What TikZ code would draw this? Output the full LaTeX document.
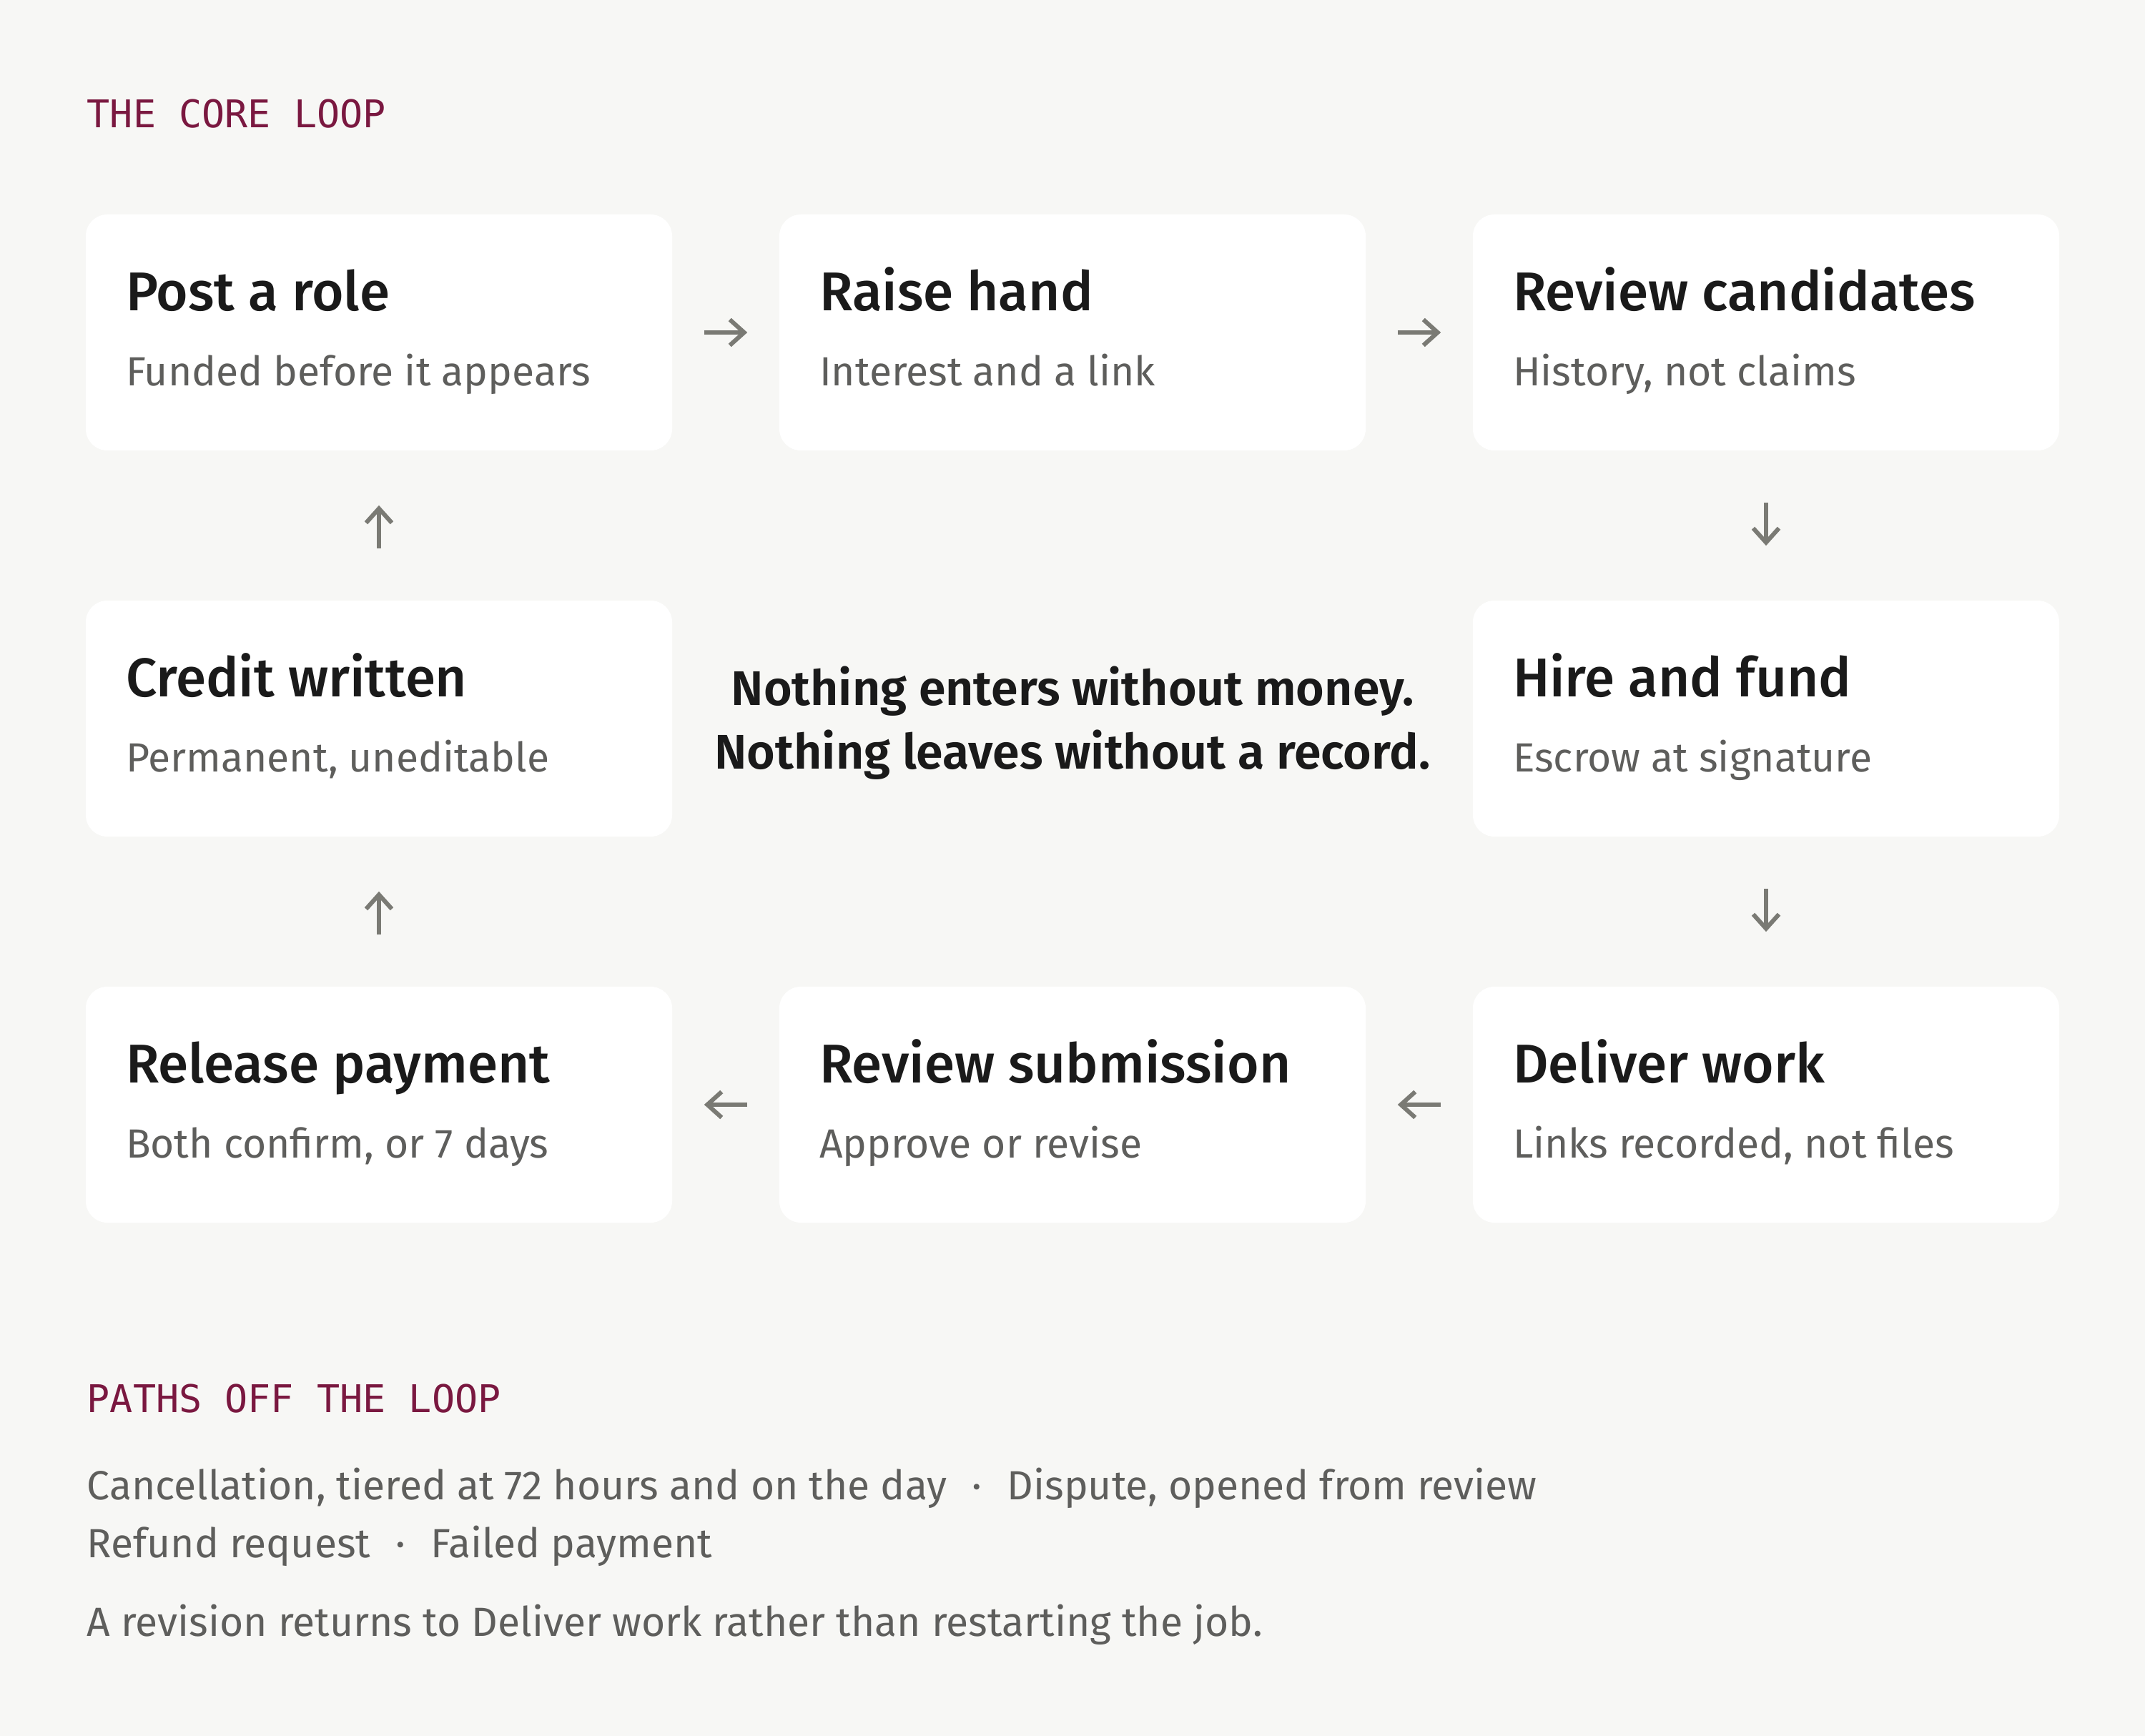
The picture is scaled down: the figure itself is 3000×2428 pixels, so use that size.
\documentclass[tikz,border=0pt]{standalone}
\usepackage{fontspec}
\setmainfont{Fira Sans}
\newfontfamily\medfont{Fira Sans Medium}
\newfontfamily\semifont{Fira Sans SemiBold}
\newfontfamily\codefont{DejaVu Sans Mono}
\usetikzlibrary{arrows.meta,calc}
\definecolor{bgc}{HTML}{F7F7F5}
\definecolor{maroon}{HTML}{7A1840}
\definecolor{ink}{HTML}{1A1A1A}
\definecolor{soft}{HTML}{5E5E5C}
\definecolor{arrc}{HTML}{7A7A74}
\tikzset{
  card/.style={fill=white, draw=none, rounded corners=7.5pt, minimum width=205pt, minimum height=82.5pt, inner sep=0pt},
  ttl/.style={anchor=base west, inner sep=0pt, text=ink, font=\medfont\fontsize{19.1pt}{23pt}\selectfont},
  sub/.style={anchor=base west, inner sep=0pt, text=soft, font=\fontsize{14.25pt}{17pt}\selectfont},
  head/.style={anchor=base west, inner sep=0pt, text=maroon, font=\codefont\fontsize{13.35pt}{16pt}\selectfont},
  foot/.style={anchor=base west, inner sep=0pt, text=soft, font=\fontsize{14.25pt}{17pt}\selectfont},
  arr/.style={draw=arrc, line width=1.5pt, -{Straight Barb[length=5pt,width=9pt]}},
  harr/.style={arr, shorten <=11pt, shorten >=11pt},
  varr/.style={arr, shorten <=18pt, shorten >=19pt},
}
\newcommand{\sep}{\hspace{0.62em}·\hspace{0.62em}}
\begin{document}
\begin{tikzpicture}[x=0.25pt,y=-0.25pt]
\fill[bgc] (0,0) rectangle (3000,2428);
\useasboundingbox (0,0) rectangle (3000,2428);

\node[head] (h1) at (121,179) {THE CORE LOOP};

% cards
\node[card] (b1) at (530,465) {};
\node[card] (b2) at (1500,465) {};
\node[card] (b3) at (2470,465) {};
\node[card] (b4) at (530,1005) {};
\node[card] (b6) at (2470,1005) {};
\node[card] (b7) at (530,1545) {};
\node[card] (b8) at (1500,1545) {};
\node[card] (b9) at (2470,1545) {};

\node[ttl] (t1) at ($(b1.north west)+(56,135)$) {Post a role};
\node[sub] (s1) at ($(b1.north west)+(56,240)$) {Funded before it appears};
\node[ttl] (t2) at ($(b2.north west)+(56,135)$) {Raise hand};
\node[sub] (s2) at ($(b2.north west)+(56,240)$) {Interest and a link};
\node[ttl] (t3) at ($(b3.north west)+(56,135)$) {Review candidates};
\node[sub] (s3) at ($(b3.north west)+(56,240)$) {History, not claims};
\node[ttl] (t4) at ($(b4.north west)+(56,135)$) {Credit written};
\node[sub] (s4) at ($(b4.north west)+(56,240)$) {Permanent, uneditable};
\node[ttl] (t6) at ($(b6.north west)+(56,135)$) {Hire and fund};
\node[sub] (s6) at ($(b6.north west)+(56,240)$) {Escrow at signature};
\node[ttl] (t7) at ($(b7.north west)+(56,135)$) {Release payment};
\node[sub] (s7) at ($(b7.north west)+(56,240)$) {Both confirm, or 7 days};
\node[ttl] (t8) at ($(b8.north west)+(56,135)$) {Review submission};
\node[sub] (s8) at ($(b8.north west)+(56,240)$) {Approve or revise};
\node[ttl] (t9) at ($(b9.north west)+(56,135)$) {Deliver work};
\node[sub] (s9) at ($(b9.north west)+(56,240)$) {Links recorded, not files};

% centre statement
\node[align=center, inner sep=0pt, text=ink, font=\semifont\fontsize{17pt}{22.3pt}\selectfont] (mid) at (1500,1011)
  {Nothing enters without money.\\Nothing leaves without a record.};

% connectors
\draw[harr] (b1.east) -- (b2.west);
\draw[harr] (b2.east) -- (b3.west);
\draw[varr] (b3.south) -- (b6.north);
\draw[varr] (b6.south) -- (b9.north);
\draw[harr] (b9.west) -- (b8.east);
\draw[harr] (b8.west) -- (b7.east);
\draw[varr] (b7.north) -- (b4.south);
\draw[varr] (b4.north) -- (b1.south);

% paths off the loop
\node[head] (h2) at (121,1975) {PATHS OFF THE LOOP};
\node[foot] (f1) at (121,2097) {Cancellation, tiered at 72 hours and on the day\sep Dispute, opened from review};
\node[foot] (f2) at (121,2178) {Refund request\sep Failed payment};
\node[foot] (f3) at (121,2288) {A revision returns to Deliver work rather than restarting the job.};
\end{tikzpicture}
\end{document}
